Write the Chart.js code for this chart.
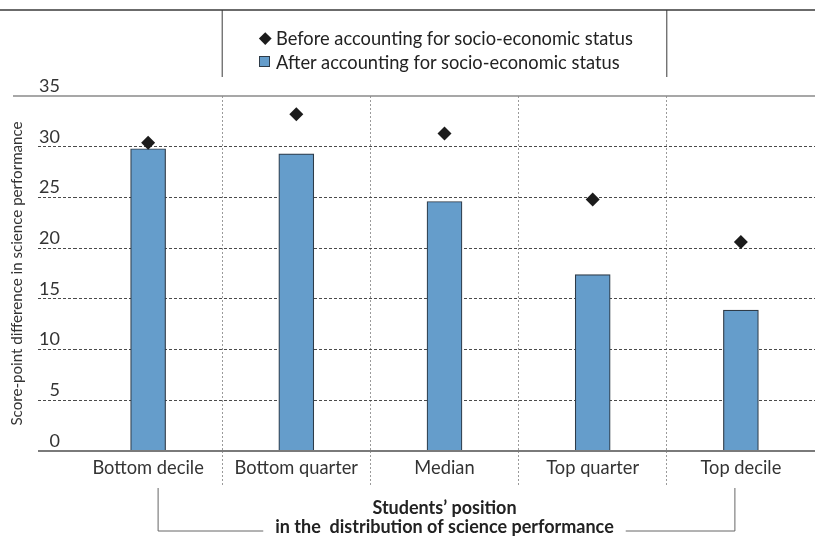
<!DOCTYPE html>
<html>
<head>
<meta charset="utf-8">
<script src="https://cdn.jsdelivr.net/npm/chart.js@4.4.1/dist/chart.umd.min.js"></script>
<style>
    body { margin: 0; background: #fff; }
    #wrap { position: relative; width: 815px; height: 538px; }
    #legend {
        position: absolute;
        left: 258px;
        top: 26px;
        font: 18.3px Lato, sans-serif;
        color: #222;
    }
    .legend-row { height: 24px; display: flex; align-items: center; }
    .legend-mark { width: 14px; height: 12px; margin-right: 4px; position: relative; }
    .legend-mark.diamond::before {
        content: "";
        position: absolute;
        left: 3px; top: 2px;
        width: 8.5px; height: 8.5px;
        background: #1c1c1c;
        transform: rotate(45deg);
    }
    .legend-mark.square::before {
        content: "";
        position: absolute;
        left: 1px; top: 0;
        width: 11px; height: 11px;
        box-sizing: border-box;
        background: #659dcb;
        border: 1px solid #2e3b48;
    }
</style>
</head>
<body>
<div id="wrap">
    <canvas id="chart" width="815" height="538"></canvas>
    <div id="legend"></div>
</div>
<script>
const categories = ['Bottom decile', 'Bottom quarter', 'Median', 'Top quarter', 'Top decile'];
const beforeSES = [30.4, 33.2, 31.3, 24.8, 20.6];
const afterSES = [29.8, 29.3, 24.6, 17.4, 13.9];
const yTicks = [0, 5, 10, 15, 20, 25, 30, 35];
const beforeLabel = 'Before accounting for socio-economic status';
const afterLabel = 'After accounting for socio-economic status';
const xTitle = ['Students’ position', 'in the  distribution of science performance'];
const yTitle = 'Score-point difference in science performance';

const FONT = 'Lato, sans-serif';
const X_TITLE_SIZE = 18;

// frame lines, axis lines and the bracket under the x labels
const framePlugin = {
    id: 'frame',
    afterDraw(chart) {
        const { ctx, width, scales: { x, y } } = chart;
        const line = (pts, color, w) => {
            ctx.beginPath();
            ctx.moveTo(pts[0], pts[1]);
            for (let i = 2; i < pts.length; i += 2) ctx.lineTo(pts[i], pts[i + 1]);
            ctx.strokeStyle = color;
            ctx.lineWidth = w;
            ctx.stroke();
        };
        ctx.save();
        const top = y.getPixelForValue(yTicks[yTicks.length - 1]);
        const base = y.getPixelForValue(0);
        const b1 = (x.getPixelForValue(0) + x.getPixelForValue(1)) / 2;
        const b2 = (x.getPixelForValue(3) + x.getPixelForValue(4)) / 2;

        line([0, 10, width, 10], '#3a3a3a', 1.5);
        line([b1, 10, b1, 77], '#3a3a3a', 1);
        line([b2, 10, b2, 77], '#3a3a3a', 1);
        line([13, top, width, top], '#8a8a8a', 1.5);
        line([38, base, width, base], '#7a7a7a', 2);

        ctx.font = 'bold ' + X_TITLE_SIZE + 'px ' + FONT;
        const tw = ctx.measureText(xTitle[1]).width;
        const cx = (x.left + x.right) / 2;
        const left = x.getPixelForValue(0) + 10;
        const right = x.getPixelForValue(4) - 6;
        line([left, 488, left, 531, cx - tw / 2 - 12, 531], '#666', 1);
        line([cx + tw / 2 + 12, 531, right, 531, right, 488], '#666', 1);
        ctx.restore();
    }
};

const htmlLegend = {
    id: 'htmlLegend',
    afterUpdate(chart) {
        const box = document.getElementById('legend');
        box.innerHTML = '';
        chart.data.datasets.forEach(ds => {
            const row = document.createElement('div');
            row.className = 'legend-row';
            const mark = document.createElement('span');
            mark.className = 'legend-mark ' + (ds.type === 'line' ? 'diamond' : 'square');
            const txt = document.createElement('span');
            txt.textContent = ds.label;
            row.appendChild(mark);
            row.appendChild(txt);
            box.appendChild(row);
        });
    }
};

const edgeTick = v => v === 0 || v === yTicks[yTicks.length - 1];

new Chart(document.getElementById('chart'), {
    type: 'bar',
    data: {
        labels: categories,
        datasets: [
            {
                type: 'line',
                label: beforeLabel,
                data: beforeSES,
                showLine: false,
                pointStyle: 'rectRot',
                pointRadius: 7,
                pointBackgroundColor: '#1c1c1c',
                pointBorderColor: '#1c1c1c',
                pointBorderWidth: 0,
                order: 0
            },
            {
                type: 'bar',
                label: afterLabel,
                data: afterSES,
                backgroundColor: '#659dcb',
                borderColor: '#2e3b48',
                borderWidth: 1.2,
                barThickness: 35,
                order: 1
            }
        ]
    },
    options: {
        responsive: false,
        animation: false,
        devicePixelRatio: 1,
        layout: { autoPadding: false, padding: { top: 96, left: 0, right: 0, bottom: 0 } },
        plugins: {
            legend: { display: false },
            tooltip: { enabled: false }
        },
        scales: {
            x: {
                offset: true,
                afterFit: s => { s.height = 87; },
                border: { display: false, dash: [2, 2] },
                grid: {
                    offset: true,
                    color: c => (c.type === 'tick' && c.index > 0) ? '#9a9a9a' : 'transparent',
                    tickColor: c => (c.type === 'tick' && c.index > 0) ? '#9a9a9a' : 'transparent',
                    tickLength: 36,
                    tickBorderDash: [2, 2]
                },
                ticks: {
                    padding: -30,
                    color: '#333',
                    font: { family: FONT, size: 18.3 }
                },
                title: {
                    display: true,
                    text: xTitle,
                    color: '#222',
                    font: { family: FONT, size: X_TITLE_SIZE, weight: 'bold', lineHeight: 1.06 },
                    padding: { top: 0, bottom: 1 }
                }
            },
            y: {
                min: 0,
                max: 35,
                afterFit: s => { s.width = 74; },
                afterBuildTicks: s => { s.ticks = yTicks.map(v => ({ value: v })); },
                border: { display: false, dash: [3, 2] },
                grid: {
                    color: c => edgeTick(c.tick.value) ? 'transparent' : '#4a4a4a',
                    tickColor: c => edgeTick(c.tick.value) ? 'transparent' : '#4a4a4a',
                    tickLength: 36,
                    tickBorderDash: [3, 2]
                },
                ticks: {
                    padding: -22,
                    labelOffset: -10,
                    color: '#333',
                    font: { family: FONT, size: 18 }
                },
                title: {
                    display: true,
                    text: yTitle,
                    color: '#333',
                    font: { family: FONT, size: 15.1 },
                    padding: { top: 8, bottom: 0 }
                }
            }
        }
    },
    plugins: [framePlugin, htmlLegend]
});
</script>
</body>
</html>
